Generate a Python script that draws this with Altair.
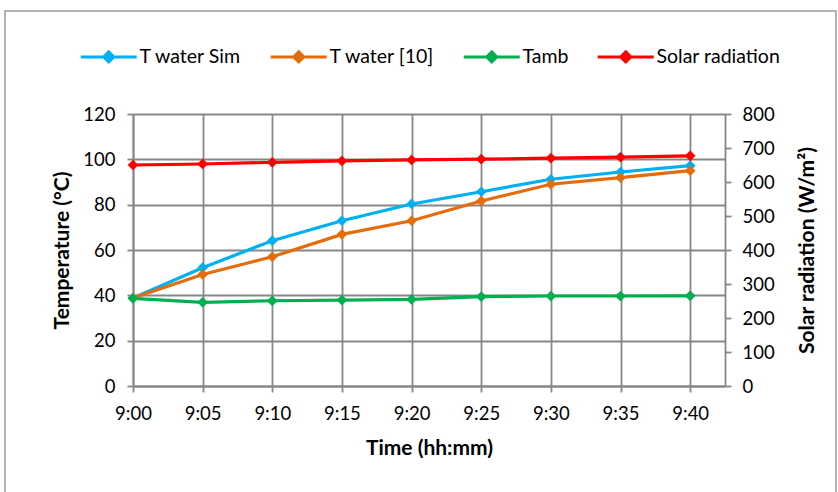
import json
import altair as alt
import pandas as pd

# ---- data ----
time_labels = ["9:00", "9:05", "9:10", "9:15", "9:20", "9:25", "9:30", "9:35", "9:40"]
minutes = [0, 5, 10, 15, 20, 25, 30, 35, 40]
t_water_sim = [38.8, 52.2, 64.1, 72.9, 80.3, 85.7, 91.2, 94.4, 97.2]
t_water_10 = [38.8, 49.2, 57.0, 66.9, 72.9, 81.6, 89.0, 91.9, 95.0]
tamb = [38.7, 36.9, 37.6, 37.9, 38.2, 39.4, 39.7, 39.7, 39.8]
solar = [650, 653, 658, 662, 665, 667, 670, 673, 677]

series_names = ["T water Sim", "T water [10]", "Tamb", "Solar radiation"]
series_colors = ["#00B0F0", "#E46C0A", "#00B050", "#FF0000"]

rows = []
for name, vals in zip(series_names, [t_water_sim, t_water_10, tamb, solar]):
    for m, v in zip(minutes, vals):
        rows.append({"min": m, "series": name, "value": v})
df = pd.DataFrame(rows)
temp_df = df[df["series"] != "Solar radiation"]
sol_df = df[df["series"] == "Solar radiation"]

FONT = "Lato"
GRID = "#878787"
GW = 1.8
TICK_FS = 18.5
TITLE_FS = 21
label_expr = json.dumps(time_labels) + "[round(datum.value / 5)]"

legend_path = "M-5.6,0L5.6,0M0,-1L1,0L0,1L-1,0Z"
color_scale = alt.Scale(domain=series_names, range=series_colors)
color_enc = alt.Color(
    "series:N",
    scale=color_scale,
    sort=series_names,
    legend=alt.Legend(
        title=None,
        orient="none",
        direction="horizontal",
        columns=4,
        legendX=-34,
        legendY=-67,
        symbolType=legend_path,
        symbolSize=100,
        symbolStrokeWidth=3,
        symbolOpacity=1,
        labelOffset=21,
        columnPadding=22,
        labelFont=FONT,
        labelFontSize=19.5,
        labelColor="#000000",
    ),
)

x_scale = alt.Scale(domain=[0, 42.5], nice=False, zero=False)
x_enc = alt.X(
    "min:Q",
    scale=x_scale,
    axis=alt.Axis(
        title="Time (hh:mm)",
        values=minutes,
        labelExpr=label_expr,
        labelFlush=False,
        labelOverlap=False,
        grid=True,
        gridColor=GRID,
        gridWidth=GW,
        domainColor=GRID,
        domainWidth=GW,
        tickColor=GRID,
        tickWidth=GW,
        tickSize=6,
        labelPadding=12,
        labelFont=FONT,
        labelFontSize=TICK_FS,
        labelColor="#000000",
        titleFont=FONT,
        titleFontSize=TITLE_FS,
        titleFontWeight="bold",
        titleColor="#000000",
        titlePadding=15,
    ),
)

temp_y = alt.Y(
    "value:Q",
    scale=alt.Scale(domain=[0, 120], nice=False),
    axis=alt.Axis(
        title="Temperature (°C)",
        values=[0, 20, 40, 60, 80, 100, 120],
        grid=True,
        gridColor=GRID,
        gridWidth=GW,
        domainColor=GRID,
        domainWidth=GW,
        tickColor=GRID,
        tickWidth=GW,
        tickSize=6,
        labelPadding=12,
        labelFont=FONT,
        labelFontSize=TICK_FS,
        labelColor="#000000",
        titleFont=FONT,
        titleFontSize=TITLE_FS,
        titleFontWeight="bold",
        titleColor="#000000",
        titlePadding=10,
    ),
)

sol_y = alt.Y(
    "value:Q",
    scale=alt.Scale(domain=[0, 800], nice=False),
    axis=alt.Axis(
        orient="right",
        title="Solar radiation  (W/m²)",
        titleAngle=270,
        titleBaseline="top",
        values=[0, 100, 200, 300, 400, 500, 600, 700, 800],
        grid=False,
        domainColor=GRID,
        domainWidth=GW,
        tickColor=GRID,
        tickWidth=GW,
        tickSize=6,
        labelPadding=11,
        labelFont=FONT,
        labelFontSize=TICK_FS,
        labelColor="#000000",
        titleFont=FONT,
        titleFontSize=TITLE_FS,
        titleFontWeight="bold",
        titleColor="#000000",
        titlePadding=22,
    ),
)

pt = alt.OverlayMarkDef(shape="diamond", filled=True, size=115, opacity=1)

temp_layer = alt.Chart(temp_df).mark_line(strokeWidth=3.2, point=pt).encode(
    x=x_enc,
    y=temp_y,
    color=color_enc,
)

sol_layer = alt.Chart(sol_df).mark_line(strokeWidth=3.2, point=pt).encode(
    x=x_enc,
    y=sol_y,
    color=color_enc,
)

frame = alt.Chart(pd.DataFrame({"f": [0]})).mark_rect(
    fillOpacity=0, stroke="#9a9a9a", strokeWidth=1.5
).encode(
    x=alt.value(-128),
    x2=alt.value(703),
    y=alt.value(-103),
    y2=alt.value(390),
)

chart = (
    alt.layer(frame, temp_layer, sol_layer)
    .resolve_scale(y="independent", color="shared")
    .properties(
        width=592,
        height=272,
        autosize=alt.AutoSizeParams(type="none"),
        padding={"left": 133, "top": 114, "right": 113, "bottom": 106},
        background="#ffffff",
    )
    .configure_view(strokeWidth=0)
)

chart.save("out.html", embed_options={"renderer": "svg", "actions": False})
